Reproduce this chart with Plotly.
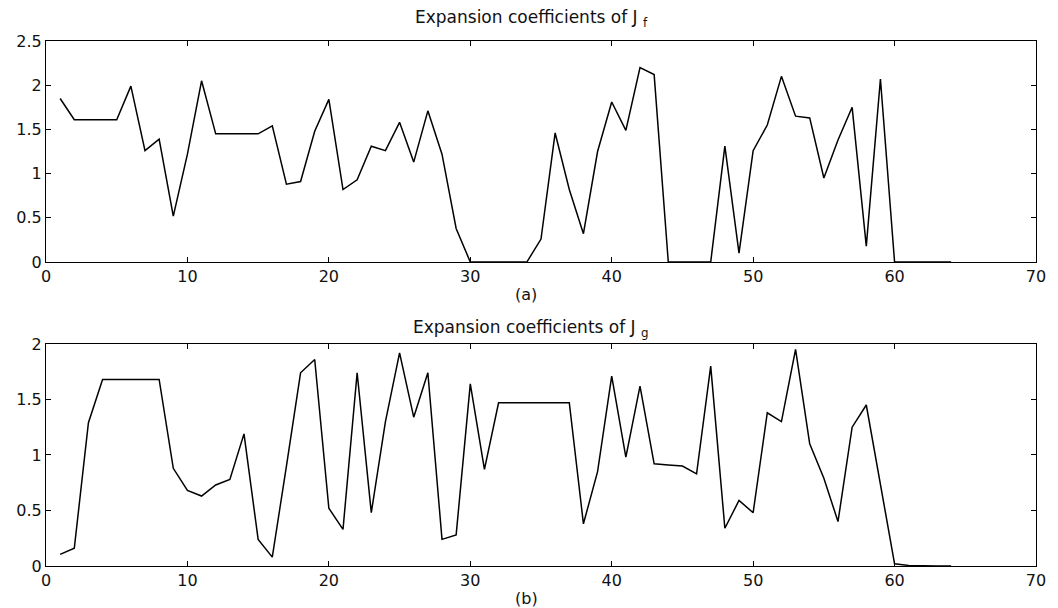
import plotly.graph_objects as go

# x positions (coefficient index)
x_idx = list(range(1, 65))

# Expansion coefficients of J_f
jf = [1.85, 1.61, 1.61, 1.61, 1.61, 1.99, 1.26, 1.39, 0.52, 1.22,
      2.05, 1.45, 1.45, 1.45, 1.45, 1.54, 0.88, 0.91, 1.48, 1.84,
      0.82, 0.93, 1.31, 1.26, 1.58, 1.13, 1.71, 1.22, 0.38, 0.0,
      0.0, 0.0, 0.0, 0.0, 0.26, 1.46, 0.82, 0.32, 1.25, 1.81,
      1.49, 2.20, 2.12, 0.0, 0.0, 0.0, 0.0, 1.31, 0.10, 1.26,
      1.55, 2.10, 1.65, 1.63, 0.95, 1.38, 1.75, 0.18, 2.07, 0.0,
      0.0, 0.0, 0.0, 0.0]

# Expansion coefficients of J_g
jg = [0.105, 0.16, 1.29, 1.68, 1.68, 1.68, 1.68, 1.68, 0.88, 0.68,
      0.63, 0.73, 0.78, 1.19, 0.24, 0.08, 0.90, 1.74, 1.86, 0.52,
      0.33, 1.74, 0.48, 1.30, 1.92, 1.34, 1.74, 0.24, 0.28, 1.64,
      0.87, 1.47, 1.47, 1.47, 1.47, 1.47, 1.47, 0.38, 0.85, 1.71,
      0.98, 1.62, 0.92, 0.91, 0.90, 0.83, 1.80, 0.34, 0.59, 0.48,
      1.38, 1.30, 1.95, 1.10, 0.79, 0.40, 1.25, 1.45, 0.73, 0.02,
      0.005, 0.0, 0.0, 0.0]

x_ticks = [0, 10, 20, 30, 40, 50, 60, 70]
yf_ticks = [0, 0.5, 1, 1.5, 2, 2.5]
yf_labels = ["0", "0.5", "1", "1.5", "2", "2.5"]
yg_ticks = [0, 0.5, 1, 1.5, 2]
yg_labels = ["0", "0.5", "1", "1.5", "2"]

FONT = "DejaVu Sans, Verdana, sans-serif"
TXT = dict(family=FONT, size=16, color="#111111")
TTL = dict(family=FONT, size=17, color="#111111")

fig = go.Figure()
fig.add_trace(go.Scatter(x=x_idx, y=jf, mode="lines", xaxis="x", yaxis="y",
                         line=dict(color="black", width=1.5), showlegend=False))
fig.add_trace(go.Scatter(x=x_idx, y=jg, mode="lines", xaxis="x2", yaxis="y2",
                         line=dict(color="black", width=1.5), showlegend=False))

axis_common = dict(showgrid=False, zeroline=False, showline=True, linecolor="black",
                   linewidth=1.2, mirror="ticks", ticks="inside", ticklen=5,
                   tickcolor="black", tickfont=TXT)

fig.update_layout(
    width=1058, height=608,
    margin=dict(l=46, r=15, t=41, b=42),
    paper_bgcolor="white", plot_bgcolor="white",
    xaxis=dict(domain=[0, 1], range=[0, 70], tickvals=x_ticks, anchor="y", **axis_common),
    yaxis=dict(domain=[0.579, 1], range=[0, 2.5], tickvals=yf_ticks, ticktext=yf_labels,
               anchor="x", **axis_common),
    xaxis2=dict(domain=[0, 1], range=[0, 70], tickvals=x_ticks, anchor="y2", **axis_common),
    yaxis2=dict(domain=[0, 0.423], range=[0, 2], tickvals=yg_ticks, ticktext=yg_labels,
                anchor="x2", **axis_common),
    annotations=[
        dict(text="Expansion coefficients of J <sub>f</sub>", xref="paper", yref="paper",
             x=0.49, y=1.0, yshift=9, xanchor="center", yanchor="bottom", showarrow=False,
             font=TTL),
        dict(text="(a)", xref="paper", yref="paper", x=0.485, y=0.579, yshift=-21,
             xanchor="center", yanchor="top", showarrow=False, font=TXT),
        dict(text="Expansion coefficients of J <sub>g</sub>", xref="paper", yref="paper",
             x=0.49, y=0.423, yshift=2, xanchor="center", yanchor="bottom", showarrow=False,
             font=TTL),
        dict(text="(b)", xref="paper", yref="paper", x=0.485, y=0, yshift=-21,
             xanchor="center", yanchor="top", showarrow=False, font=TXT),
    ],
)

fig.write_html("out.html")
